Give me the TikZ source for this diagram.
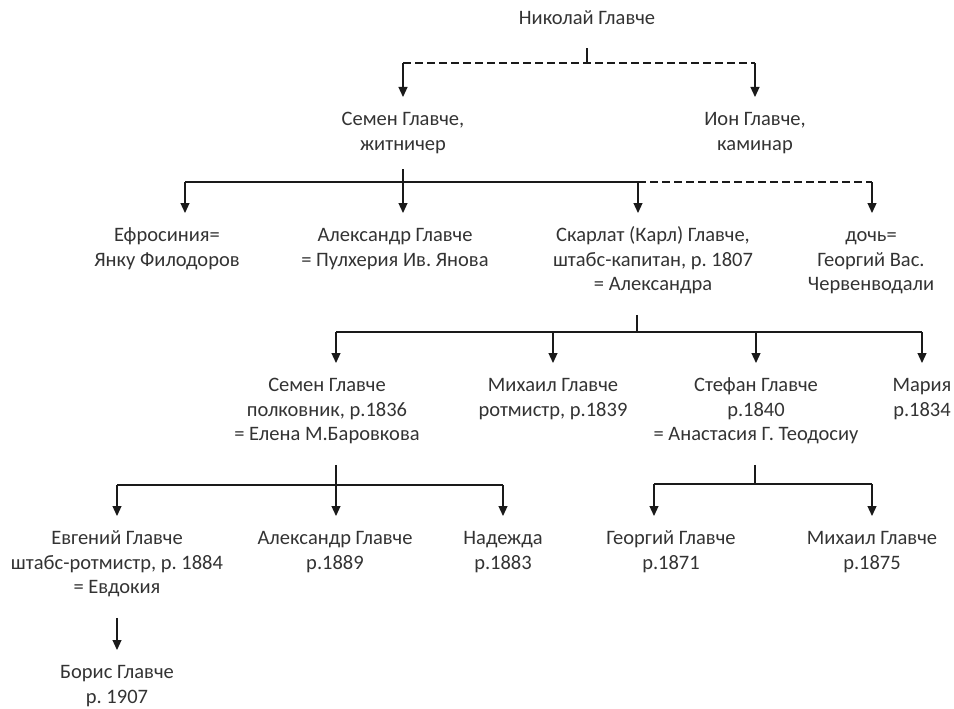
\documentclass[tikz,border=0pt]{standalone}
\usepackage{fontspec}
\setmainfont{Carlito}
\usetikzlibrary{arrows.meta}
\definecolor{txt}{HTML}{333333}
\definecolor{ln}{HTML}{1A1A1A}
\frenchspacing
\begin{document}
\begin{tikzpicture}[x=1pt,y=-1pt,
	every node/.style={align=center,anchor=north,inner xsep=0pt,inner ysep=11.5pt,text=txt,
		font=\fontsize{20.5}{24.5}\selectfont},
	link/.style={draw=ln,line width=1.2pt},
	stem/.style={link,shorten <=5pt},
	famdash/.style={link,dash pattern=on 8pt off 4pt},
	arr/.style={link,-{Triangle[length=10pt,width=9pt]}}]
	\useasboundingbox (0,0) rectangle (954,709);
	% generation 1
	\node (nik) at (587,-4.6) {\strut Николай Главче\strut};
	\node (semen) at (403,97) {\strut Семен Главче,\\житничер\strut};
	\node (ion) at (755,97) {\strut Ион Главче,\\каминар\strut};
	\coordinate (j0) at (587,63);
	\draw[stem] (nik.south) -- (j0);
	\draw[famdash] (semen |- j0) -- (ion |- j0);
	\draw[arr] (semen |- j0) -- (semen.north);
	\draw[arr] (ion |- j0) -- (ion.north);
	% children of Semen
	\node (efros) at (167,213) {\strut Ефросиния=\\Янку Филодоров\strut};
	\node (alex) at (395,213) {\strut Александр Главче\\= Пулхерия Ив. Янова\strut};
	\node (skarl) at (653,213) {\strut Скарлат (Карл) Главче,\\штабс-капитан, р. 1807\\= Александра\strut};
	\node (doch) at (871,213) {\strut дочь=\\Георгий Вас.\\Червенводали\strut};
	\coordinate (b1) at (403,182);
	\coordinate (d1) at (185,182);
	\coordinate (d3) at (638,182);
	\coordinate (d4) at (872,182);
	\draw[link] (semen.south) -- (b1);
	\draw[link] (d1) -- (d3);
	\draw[famdash] (d3) -- (d4);
	\draw[arr] (d1) -- (d1 |- efros.north);
	\draw[arr] (b1) -- (b1 |- alex.north);
	\draw[arr] (d3) -- (d3 |- skarl.north);
	\draw[arr] (d4) -- (d4 |- doch.north);
	% children of Skarlat
	\node (semen2) at (327,363) {\strut Семен Главче\\полковник, р.1836\\= Елена М.Баровкова\strut};
	\node (mikh) at (553,363) {\strut Михаил Главче\\ротмистр, р.1839\strut};
	\node (stef) at (756,363) {\strut Стефан Главче\\р.1840\\= Анастасия Г. Теодосиу\strut};
	\node (maria) at (922,363) {\strut Мария\\р.1834\strut};
	\coordinate (b2) at (637,332);
	\coordinate (e1) at (336,332);
	\coordinate (e4) at (922,332);
	\draw[stem] (b2 |- skarl.south) -- (b2);
	\draw[link] (e1) -- (e4);
	\draw[arr] (e1) -- (e1 |- semen2.north);
	\draw[arr] (mikh |- e1) -- (mikh.north);
	\draw[arr] (stef |- e1) -- (stef.north);
	\draw[arr] (e4) -- (maria.north);
	% grandchildren
	\node (evg) at (117,516) {\strut Евгений Главче\\штабс-ротмистр, р. 1884\\= Евдокия\strut};
	\node (alex2) at (335,516) {\strut Александр Главче\\р.1889\strut};
	\node (nad) at (503,516) {\strut Надежда\\р.1883\strut};
	\node (georg) at (671,516) {\strut Георгий Главче\\р.1871\strut};
	\node (mikh2) at (872,516) {\strut Михаил Главче\\р.1875\strut};
	\coordinate (f1) at (117,485);
	\coordinate (f2) at (336,485);
	\coordinate (f3) at (503,485);
	\draw[link] (f1) -- (f3);
	\draw[stem] (f2 |- semen2.south) -- (f2);
	\draw[arr] (f1) -- (evg.north);
	\draw[arr] (f2) -- (f2 |- alex2.north);
	\draw[arr] (f3) -- (nad.north);
	\coordinate (g1) at (654,484);
	\coordinate (g2) at (755,484);
	\coordinate (g3) at (872,484);
	\draw[link] (g1) -- (g3);
	\draw[stem] (g2 |- stef.south) -- (g2);
	\draw[arr] (g1) -- (g1 |- georg.north);
	\draw[arr] (g3) -- (mikh2.north);
	% last generation
	\node (boris) at (117,650) {\strut Борис Главче\\р. 1907\strut};
	\draw[arr,shorten <=5pt] (evg.south) -- (boris.north);
\end{tikzpicture}
\end{document}
